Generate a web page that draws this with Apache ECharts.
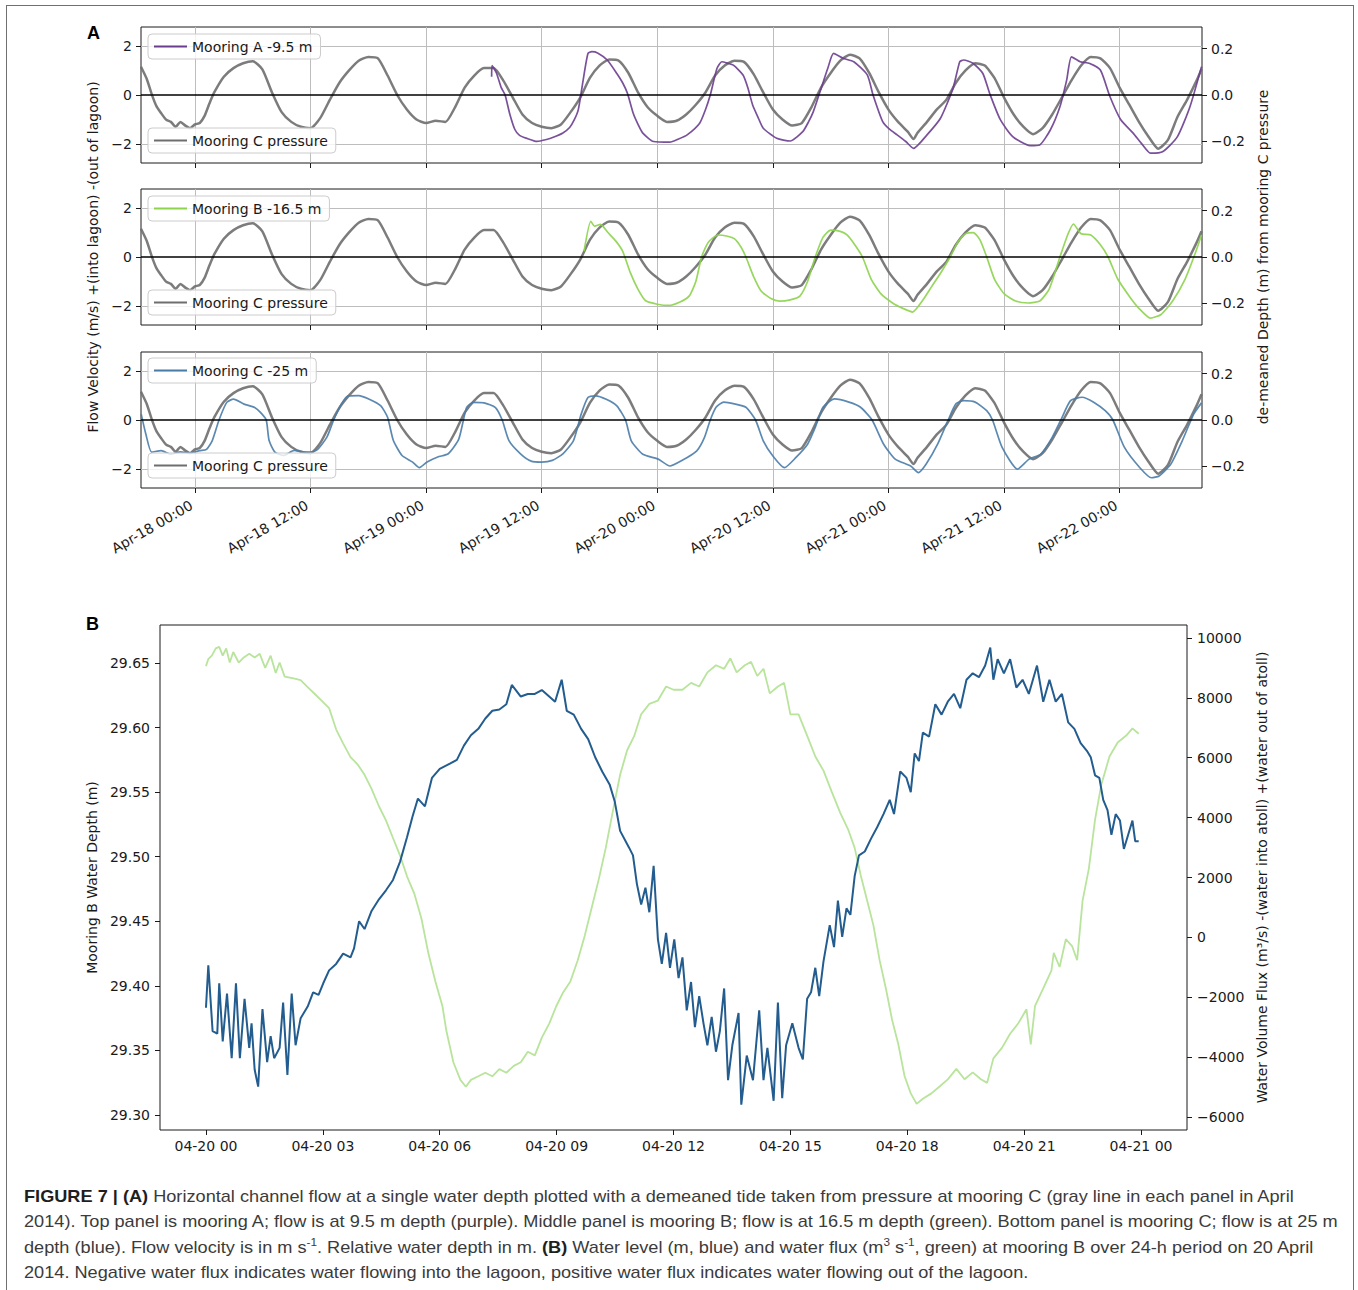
<!DOCTYPE html>
<html>
<head>
<meta charset="utf-8">
<script src="https://cdn.jsdelivr.net/npm/echarts@6/dist/echarts.min.js"></script>
<style>
  html, body { margin: 0; padding: 0; background: #fff; }
  #chart { position: absolute; left: 0; top: 0; width: 1358px; height: 1290px; }
  #frame { position: absolute; left: 6px; top: 5px; width: 1346px; height: 1300px;
           border: 1.5px solid #707070; pointer-events: none; }
  #caption { position: absolute; left: 24px; top: 1184px; font-family: "Liberation Sans", Arial, sans-serif;
             font-size: 17px; line-height: 25.4px; color: #3b3b3b; }
  #caption .ln { display: block; white-space: nowrap; width: max-content; transform-origin: 0 0; }
  #caption b { color: #1e1e1e; }
  #caption sup { font-size: 11px; line-height: 0; vertical-align: 7px; }
</style>
</head>
<body>
<div id="chart"></div>
<div id="frame"></div>
<div id="caption">
  <span class="ln"><b>FIGURE 7 | (A)</b> Horizontal channel flow at a single water depth plotted with a demeaned tide taken from pressure at mooring C (gray line in each panel in April</span>
  <span class="ln">2014). Top panel is mooring A; flow is at 9.5 m depth (purple). Middle panel is mooring B; flow is at 16.5 m depth (green). Bottom panel is mooring C; flow is at 25 m</span>
  <span class="ln">depth (blue). Flow velocity is in m s<sup>-1</sup>. Relative water depth in m. <b>(B)</b> Water level (m, blue) and water flux (m<sup>3</sup> s<sup>-1</sup>, green) at mooring B over 24-h period on 20 April</span>
  <span class="ln">2014. Negative water flux indicates water flowing into the lagoon, positive water flux indicates water flowing out of the lagoon.</span>
</div>
<script>
// panel A: [hours since 2014-04-18 00:00, value]
// de-meaned depth from mooring C pressure (m)
const pressureC = [[-5.6,0.122],[-5,0.069],[-4.5,0.005],[-4,-0.048],[-3.5,-0.079],[-3,-0.106],[-2.5,-0.116],[-2,-0.137],[-1.5,-0.116],[-1,-0.132],[-0.5,-0.143],[0,-0.127],[0.5,-0.121],[1,-0.09],[1.5,-0.037],[2,0.011],[3,0.079],[4,0.116],[5,0.137],[6,0.146],[7,0.111],[8,0.011],[9,-0.074],[10,-0.116],[11,-0.137],[12,-0.143],[13,-0.1],[14,-0.021],[15,0.053],[16,0.106],[17,0.148],[18,0.164],[19,0.158],[20,0.084],[21,0],[22,-0.063],[23,-0.106],[24,-0.121],[25,-0.111],[26,-0.116],[27,-0.053],[28,0.032],[29,0.084],[30,0.116],[31,0.116],[32,0.063],[33,-0.011],[34,-0.084],[35,-0.121],[36,-0.137],[37,-0.143],[38,-0.127],[39,-0.074],[40,-0.011],[41,0.074],[42,0.127],[43,0.153],[44,0.148],[45,0.095],[46,0.011],[47,-0.053],[48,-0.09],[49,-0.116],[50,-0.111],[51,-0.084],[52,-0.042],[53,0.011],[54,0.084],[55,0.127],[56,0.148],[57,0.143],[58,0.09],[59,0.011],[60,-0.063],[61,-0.106],[62,-0.132],[63,-0.121],[64,-0.053],[65,0.032],[66,0.095],[67,0.148],[68,0.174],[69,0.158],[70,0.095],[71,0.011],[72,-0.063],[73,-0.116],[74,-0.158],[74.6,-0.19],[75,-0.164],[76,-0.116],[77,-0.063],[78,-0.021],[79,0.053],[80,0.106],[81,0.137],[82,0.127],[83,0.074],[84,-0.011],[85,-0.084],[86,-0.137],[87,-0.169],[88,-0.143],[89,-0.084],[90,-0.011],[91,0.063],[92,0.127],[93,0.164],[94,0.158],[95,0.116],[96,0.032],[97,-0.042],[98,-0.116],[99,-0.18],[100,-0.232],[101,-0.195],[102,-0.095],[103,-0.021],[104,0.063],[104.5,0.111]];
// flow velocity (m/s)
const velA = [[30.8,0.75],[30.85,1.2],[31.3,0.9],[31.8,0.3],[32.2,0],[32.7,-0.8],[33.2,-1.4],[33.7,-1.65],[34.5,-1.78],[35.5,-1.9],[36.5,-1.82],[37.2,-1.73],[38.2,-1.55],[38.9,-1.33],[39.4,-1],[39.8,-0.6],[40.3,0.6],[40.8,1.7],[41.2,1.77],[41.8,1.72],[42.8,1.43],[43.8,0.88],[44.4,0.5],[44.9,0.07],[45.5,-0.75],[46,-1.2],[46.5,-1.56],[47.6,-1.9],[49.3,-1.93],[50.2,-1.8],[51.1,-1.63],[52.4,-1.15],[53,-0.6],[53.5,0],[54.2,1.09],[54.7,1.36],[55.3,1.3],[55.9,1.22],[56.9,0.82],[57.4,0.3],[57.9,-0.41],[58.5,-0.95],[59,-1.36],[60.4,-1.77],[61.8,-1.88],[63.1,-1.5],[63.7,-1.1],[64.2,-0.68],[64.9,0.14],[65.7,1.09],[66.3,1.7],[67.3,1.5],[68.4,1.36],[69.8,0.82],[70.4,0],[71.4,-1.09],[72.1,-1.4],[72.9,-1.63],[73.8,-1.9],[74.6,-2.18],[76,-1.63],[77.4,-0.95],[78.7,0.27],[79.4,1.36],[79.8,1.43],[80.8,1.29],[81.8,0.88],[82.5,0.07],[83.6,-1],[84.9,-1.7],[86.7,-2.07],[87.7,-2.04],[88.8,-1.43],[89.8,-0.48],[90.5,0.61],[91,1.56],[91.9,1.36],[92.9,1.29],[94,1.02],[95,-0.07],[96.1,-1],[97.4,-1.56],[98.3,-2],[99.2,-2.38],[100.5,-2.31],[102,-1.7],[103.3,-0.48],[104.5,1.16]];
const velB = [[40.4,0.24],[41.1,1.46],[41.5,1.26],[42.1,1.33],[42.9,0.99],[43.7,0.65],[44.4,0.24],[45.2,-0.64],[46,-1.32],[46.8,-1.79],[48,-1.93],[49.2,-1.98],[50.3,-1.85],[51.3,-1.6],[52,-1],[52.6,0],[53.3,0.6],[54.3,0.9],[55.3,0.85],[56,0.75],[56.7,0.4],[57.2,0],[58,-0.8],[58.8,-1.4],[59.8,-1.7],[60.7,-1.8],[61.8,-1.75],[62.8,-1.6],[63.6,-1],[64.4,0],[65.2,0.8],[66,1.1],[67,1.05],[67.7,0.9],[68.5,0.5],[69.3,0],[70.2,-0.9],[71.2,-1.5],[72.5,-1.9],[73.5,-2.1],[74.5,-2.25],[75.5,-1.8],[76.5,-1.2],[77.5,-0.6],[78.4,0],[79.2,0.6],[80,0.95],[80.8,1],[81.5,0.7],[82.2,0],[83,-0.9],[84,-1.5],[85.2,-1.8],[86.5,-1.88],[87.7,-1.8],[88.7,-1.3],[89.8,0],[90.6,0.9],[91.2,1.35],[92,0.95],[93,0.9],[94,0.5],[94.8,0],[95.8,-0.9],[97,-1.6],[98,-2.1],[99.2,-2.5],[100.3,-2.35],[101.5,-1.8],[102.8,-0.9],[103.8,0.1],[104.5,0.9]];
const velC = [[-5.58,0.24],[-5.1,-0.57],[-4.5,-1.31],[-3.5,-1.25],[-2.5,-1.4],[-1.5,-1.3],[-0.5,-1.35],[0.5,-1.25],[1.2,-1.2],[1.8,-0.84],[2.5,0],[3.3,0.72],[4,0.85],[5.1,0.65],[6.2,0.51],[6.8,0.31],[7.4,0],[7.7,-0.84],[8.3,-1.31],[9.2,-1.45],[10.3,-1.24],[11.4,-1.31],[12.6,-1.24],[13.7,-0.7],[14.4,0],[15.2,0.65],[15.9,0.99],[17,1],[18.1,0.85],[19.3,0.58],[20,0.11],[20.6,-0.84],[21.5,-1.45],[22.6,-1.72],[23.3,-1.95],[24.1,-1.72],[25.2,-1.51],[26.3,-1.38],[27.4,-0.77],[28.2,0.51],[28.9,0.72],[30,0.7],[31.2,0.51],[31.9,0],[32.6,-0.84],[33.8,-1.38],[34.9,-1.68],[36,-1.72],[37.1,-1.65],[38.2,-1.38],[39.3,-0.84],[40.1,0.24],[40.8,0.92],[41.6,0.99],[42.7,0.85],[43.8,0.58],[44.7,0],[45.3,-0.85],[46.5,-1.4],[48.1,-1.6],[49.3,-1.88],[50.5,-1.67],[52.1,-1.26],[52.9,-0.71],[53.5,0],[54.1,0.52],[54.9,0.73],[56,0.66],[57.2,0.52],[58.2,0],[59,-0.85],[60,-1.47],[61.2,-1.95],[62.4,-1.53],[63.6,-0.99],[64.4,-0.3],[65.2,0.52],[66.4,0.86],[67.9,0.73],[69.1,0.52],[70.3,0],[71.5,-0.99],[72.7,-1.6],[74.3,-1.88],[75.1,-2.15],[75.9,-1.81],[77.1,-0.99],[78.2,0],[79,0.66],[79.8,0.79],[81,0.73],[82.2,0.38],[82.8,0],[83.8,-1.12],[85.4,-2.01],[86.6,-1.6],[87.8,-1.4],[89,-0.71],[89.9,0],[90.9,0.79],[92.1,0.93],[93.3,0.73],[94.5,0.38],[95.3,0],[96.5,-1.12],[98.1,-1.95],[99.3,-2.36],[100.1,-2.29],[101.3,-1.81],[102.5,-0.85],[103.7,0.25],[104.5,0.7]];

// panel B: [hours since 2014-04-20 00:00, value]
// mooring B water depth (m)
const depthB = [[0,29.383],[0.06,29.416],[0.17,29.365],[0.29,29.363],[0.34,29.402],[0.43,29.357],[0.54,29.394],[0.66,29.344],[0.77,29.402],[0.87,29.344],[0.99,29.39],[1.11,29.352],[1.17,29.371],[1.25,29.335],[1.34,29.322],[1.45,29.382],[1.57,29.341],[1.66,29.361],[1.75,29.344],[1.89,29.352],[1.98,29.387],[2.09,29.331],[2.2,29.394],[2.3,29.354],[2.43,29.375],[2.61,29.384],[2.75,29.395],[2.89,29.393],[3.01,29.402],[3.16,29.412],[3.34,29.417],[3.52,29.425],[3.71,29.422],[3.8,29.429],[3.93,29.45],[4.07,29.444],[4.25,29.458],[4.44,29.467],[4.62,29.474],[4.8,29.482],[4.98,29.496],[5.16,29.515],[5.3,29.531],[5.44,29.545],[5.62,29.539],[5.8,29.561],[6,29.568],[6.26,29.572],[6.44,29.575],[6.62,29.586],[6.8,29.594],[6.99,29.599],[7.17,29.607],[7.35,29.613],[7.53,29.614],[7.71,29.618],[7.85,29.633],[8.08,29.624],[8.26,29.626],[8.44,29.626],[8.62,29.629],[8.81,29.624],[8.96,29.62],[9.13,29.637],[9.26,29.613],[9.44,29.61],[9.63,29.599],[9.81,29.591],[9.99,29.577],[10.17,29.566],[10.36,29.556],[10.49,29.543],[10.63,29.52],[10.86,29.507],[10.96,29.501],[11.06,29.479],[11.17,29.463],[11.28,29.476],[11.38,29.457],[11.49,29.493],[11.6,29.436],[11.7,29.417],[11.81,29.441],[11.91,29.414],[12.02,29.436],[12.13,29.406],[12.23,29.422],[12.34,29.381],[12.45,29.403],[12.55,29.368],[12.66,29.392],[12.77,29.371],[12.87,29.354],[12.98,29.376],[13.09,29.349],[13.19,29.365],[13.3,29.398],[13.4,29.327],[13.51,29.354],[13.67,29.379],[13.74,29.308],[13.88,29.346],[14.04,29.327],[14.2,29.381],[14.31,29.327],[14.41,29.352],[14.57,29.311],[14.68,29.387],[14.79,29.313],[14.89,29.354],[15.05,29.371],[15.21,29.352],[15.32,29.343],[15.43,29.39],[15.53,29.395],[15.64,29.414],[15.74,29.392],[15.85,29.419],[16.01,29.447],[16.12,29.43],[16.22,29.466],[16.33,29.438],[16.44,29.46],[16.54,29.455],[16.65,29.485],[16.76,29.501],[16.91,29.504],[17.07,29.514],[17.23,29.523],[17.39,29.533],[17.55,29.544],[17.66,29.533],[17.82,29.566],[17.98,29.561],[18.09,29.55],[18.19,29.58],[18.3,29.574],[18.4,29.596],[18.56,29.593],[18.72,29.618],[18.88,29.61],[19.04,29.62],[19.2,29.626],[19.36,29.615],[19.52,29.637],[19.68,29.642],[19.84,29.639],[20,29.648],[20.13,29.662],[20.21,29.637],[20.32,29.653],[20.48,29.642],[20.64,29.653],[20.8,29.631],[20.96,29.637],[21.12,29.626],[21.33,29.648],[21.49,29.62],[21.65,29.637],[21.81,29.62],[21.97,29.626],[22.13,29.604],[22.29,29.599],[22.45,29.588],[22.61,29.582],[22.71,29.577],[22.82,29.563],[22.93,29.561],[23.03,29.544],[23.14,29.536],[23.24,29.517],[23.35,29.533],[23.46,29.528],[23.56,29.506],[23.67,29.517],[23.78,29.528],[23.85,29.512],[23.94,29.512]];
// water volume flux (m3/s)
const fluxB = [[0,9060],[0.06,9295],[0.15,9410],[0.25,9650],[0.34,9700],[0.43,9410],[0.52,9650],[0.61,9180],[0.7,9530],[0.84,9180],[0.97,9350],[1.11,9470],[1.25,9350],[1.38,9470],[1.52,9000],[1.66,9410],[1.79,8830],[1.89,9180],[2.02,8710],[2.25,8650],[2.43,8590],[2.61,8360],[2.8,8120],[2.98,7890],[3.16,7660],[3.34,6950],[3.52,6480],[3.71,6020],[3.89,5780],[4.07,5430],[4.25,4960],[4.44,4380],[4.62,3910],[4.8,3320],[4.98,2740],[5.16,2040],[5.35,1450],[5.53,630],[5.71,-540],[5.89,-1480],[6.07,-2300],[6.17,-3120],[6.35,-4170],[6.53,-4760],[6.67,-4990],[6.8,-4760],[6.99,-4640],[7.17,-4520],[7.35,-4640],[7.53,-4400],[7.71,-4520],[7.9,-4290],[8.08,-4170],[8.26,-3820],[8.44,-3940],[8.62,-3350],[8.81,-2880],[8.99,-2300],[9.17,-1830],[9.35,-1480],[9.54,-770],[9.72,50],[9.9,990],[10.08,1930],[10.26,2980],[10.45,4260],[10.63,5430],[10.81,6250],[10.99,6720],[11.17,7450],[11.38,7800],[11.6,7910],[11.81,8380],[12,8270],[12.23,8270],[12.45,8500],[12.66,8380],[12.87,8850],[13.09,9090],[13.3,8970],[13.46,9320],[13.62,8850],[13.83,9090],[13.99,9200],[14.15,8730],[14.31,8970],[14.47,8150],[14.68,8380],[14.84,8500],[15,7450],[15.21,7450],[15.43,6740],[15.64,6040],[15.85,5570],[16.06,4870],[16.28,4160],[16.49,3580],[16.65,2990],[16.81,2050],[16.97,1230],[17.13,410],[17.29,-760],[17.45,-1700],[17.61,-2750],[17.77,-3570],[17.93,-4630],[18.09,-5210],[18.24,-5560],[18.4,-5390],[18.62,-5210],[18.83,-4980],[19.04,-4740],[19.26,-4390],[19.47,-4740],[19.68,-4510],[19.89,-4740],[20.05,-4860],[20.21,-4040],[20.43,-3690],[20.64,-3220],[20.85,-2870],[21.06,-2400],[21.17,-3570],[21.28,-2290],[21.49,-1700],[21.7,-1110],[21.76,-520],[21.91,-990],[22.07,-60],[22.23,-290],[22.36,-760],[22.5,1230],[22.66,2290],[22.82,3930],[22.98,5100],[23.19,6040],[23.4,6510],[23.62,6740],[23.78,6980],[23.94,6800]];

// tick positions
const tickHoursA = [0, 12, 24, 36, 48, 60, 72, 84, 96];
const tickVelA = [-2, 0, 2];
const tickDepthA = [-0.2, 0, 0.2];
const tickHoursB = [0, 3, 6, 9, 12, 15, 18, 21, 24];
const tickDepthB = [29.30, 29.35, 29.40, 29.45, 29.50, 29.55, 29.60, 29.65];
const tickFluxB = [-6000, -4000, -2000, 0, 2000, 4000, 6000, 8000, 10000];

const FONT = 'DejaVu Sans';
const INK = '#1a1a1a';
const sign = v => (v < 0 ? '\u2212' : '');
const pad2 = n => String(n).padStart(2, '0');

const tops = [27, 189, 352];
const grid = tops.map(t => ({ left: 141, top: t, width: 1061, height: 136 }));
grid.push({ left: 160, top: 625, width: 1027, height: 505 });
grid.forEach(g => Object.assign(g, { show: true, borderColor: '#1a1a1a', borderWidth: 1, backgroundColor: 'transparent', containLabel: false, outerBoundsMode: 'none' }));

const noLine = { show: false, onZero: false };
const tick = vals => ({ show: true, customValues: vals, length: 5, inside: false, lineStyle: { color: '#1a1a1a', width: 1 } });
const label = (vals, fmt, extra) => Object.assign({ show: true, customValues: vals, formatter: fmt, fontSize: 14, color: INK, fontFamily: FONT }, extra || {});
const axisName = { fontSize: 14, color: INK, fontFamily: FONT };

const xAxis = [0, 1, 2].map(i => ({
  gridIndex: i, type: 'value', position: 'bottom', min: -5.6, max: 104.55,
  axisLine: noLine, splitLine: { show: false },
  axisTick: tick(tickHoursA),
  axisLabel: label(tickHoursA, h => 'Apr-' + (18 + Math.floor(h / 24)) + ' ' + pad2(h % 24) + ':00',
    { show: i === 2, rotate: 30, margin: 14, padding: [0, 4, 0, 0] })
}));
xAxis.push({
  gridIndex: 3, type: 'value', position: 'bottom', min: -1.18, max: 25.18,
  axisLine: noLine, splitLine: { show: false },
  axisTick: tick(tickHoursB),
  axisLabel: label(tickHoursB, h => '04-' + (20 + Math.floor(h / 24)) + ' ' + pad2(h % 24), { margin: 9 })
});

const yAxis = [];
[0, 1, 2].forEach(i => {
  yAxis.push({
    gridIndex: i, type: 'value', position: 'left', min: -2.78, max: 2.78,
    axisLine: noLine, splitLine: { show: false },
    axisTick: tick(tickVelA),
    axisLabel: label(tickVelA, v => sign(v) + Math.abs(v), { margin: 9 }),
    name: i === 1 ? 'Flow Velocity (m/s) +(into lagoon) -(out of lagoon)' : '',
    nameLocation: 'middle', nameRotate: 90, nameGap: 37, nameTextStyle: axisName
  });
  yAxis.push({
    gridIndex: i, type: 'value', position: 'right', min: -0.2935, max: 0.2935,
    axisLine: noLine, splitLine: { show: false },
    axisTick: tick(tickDepthA),
    axisLabel: label(tickDepthA, v => sign(v) + Math.abs(v).toFixed(1), { margin: 9 }),
    name: i === 1 ? 'de-meaned Depth (m) from mooring C pressure' : '',
    nameLocation: 'middle', nameRotate: 90, nameGap: 45, nameTextStyle: axisName
  });
});
yAxis.push({
  gridIndex: 3, type: 'value', position: 'left', min: 29.2884, max: 29.6794,
  axisLine: noLine, splitLine: { show: false },
  axisTick: tick(tickDepthB),
  axisLabel: label(tickDepthB, v => v.toFixed(2), { margin: 10 }),
  name: 'Mooring B Water Depth (m)', nameLocation: 'middle', nameRotate: 90, nameGap: 56, nameTextStyle: axisName
});
yAxis.push({
  gridIndex: 3, type: 'value', position: 'right', min: -6433, max: 10433,
  axisLine: noLine, splitLine: { show: false },
  axisTick: tick(tickFluxB),
  axisLabel: label(tickFluxB, v => sign(v) + Math.abs(v), { margin: 10 }),
  name: 'Water Volume Flux (m\u00b3/s) -(water into atoll) +(water out of atoll)',
  nameLocation: 'middle', nameRotate: 90, nameGap: 61, nameTextStyle: axisName
});

function line(name, data, color, width, xi, yi, extra) {
  return Object.assign({
    type: 'line', name, data, xAxisIndex: xi, yAxisIndex: yi, color,
    showSymbol: false, symbol: 'none', smooth: 0.2, z: 3,
    lineStyle: { width, color }, emphasis: { disabled: true }, animation: false
  }, extra || {});
}
const zeroLine = {
  silent: true, symbol: 'none', z: 6, label: { show: false }, animation: false,
  lineStyle: { color: '#000', width: 1.5, type: 'solid' }, emphasis: { disabled: true },
  data: [{ yAxis: 0 }]
};

const series = [];
const flows = [
  ['Mooring A -9.5 m', velA, '#6a3d8f'],
  ['Mooring B -16.5 m', velB, '#8dd34d'],
  ['Mooring C -25 m', velC, '#4a7ca8']
];
flows.forEach(([name, data, color], i) => {
  // grid lines
  series.push({
    type: 'line', name: 'grid' + i, data: [], xAxisIndex: i, yAxisIndex: 2 * i, z: 1, silent: true,
    markLine: {
      silent: true, symbol: 'none', z: 1, label: { show: false }, animation: false,
      lineStyle: { color: '#bdbdbd', width: 1, type: 'solid' }, emphasis: { disabled: true },
      data: tickHoursA.map(h => ({ xAxis: h })).concat(tickVelA.filter(v => v !== 0).map(v => ({ yAxis: v })))
    }
  });
  series.push(line('Mooring C pressure', pressureC, '#6e6e6e', 2.5, i, 2 * i + 1, { lineStyle: { width: 2.5, color: '#6e6e6e', opacity: 0.9 } }));
  series.push(line(name, data, color, 1.7, i, 2 * i, { z: 4, lineStyle: { width: 1.7, color, opacity: 0.9 }, markLine: zeroLine }));
});
series.push(line('Water flux', fluxB, '#b8e49c', 1.8, 3, 7, { smooth: false }));
series.push(line('Water depth', depthB, '#235c8e', 2, 3, 6, { smooth: false, z: 4 }));

const legendBox = (name, top) => ({
  data: [name], left: 148, top, selectedMode: false, icon: 'rect',
  itemWidth: 33, itemHeight: 2, padding: [4, 8, 4, 6],
  backgroundColor: 'rgba(255,255,255,0.8)', borderColor: '#cccccc', borderWidth: 1, borderRadius: 4,
  textStyle: { fontSize: 14, color: INK, fontFamily: FONT, lineHeight: 17 }, z: 10
});
const legend = [
  legendBox('Mooring A -9.5 m', 34), legendBox('Mooring C pressure', 128),
  legendBox('Mooring B -16.5 m', 196), legendBox('Mooring C pressure', 290),
  legendBox('Mooring C -25 m', 358), legendBox('Mooring C pressure', 453)
];

const chart = echarts.init(document.getElementById('chart'), null, { renderer: 'svg' });
chart.setOption({
  animation: false,
  backgroundColor: 'transparent',
  textStyle: { fontFamily: FONT },
  grid, xAxis, yAxis, series, legend,
  graphic: [
    { type: 'text', left: 87, top: 24, style: { text: 'A', font: 'bold 18px "Liberation Sans", Arial', fill: '#000' } },
    { type: 'text', left: 86, top: 615, style: { text: 'B', font: 'bold 18px "Liberation Sans", Arial', fill: '#000' } }
  ]
});

// fit caption lines to the widths in the figure
const capLines = Array.from(document.querySelectorAll('#caption .ln'));
const targets = [1266, 1315, 1292, 1004];
let natural = 0;
capLines.forEach(el => { natural += el.getBoundingClientRect().width; });
const sx = targets.reduce((a, b) => a + b, 0) / natural;
capLines.forEach(el => { el.style.transform = 'scaleX(' + sx + ')'; });
</script>
</body>
</html>
